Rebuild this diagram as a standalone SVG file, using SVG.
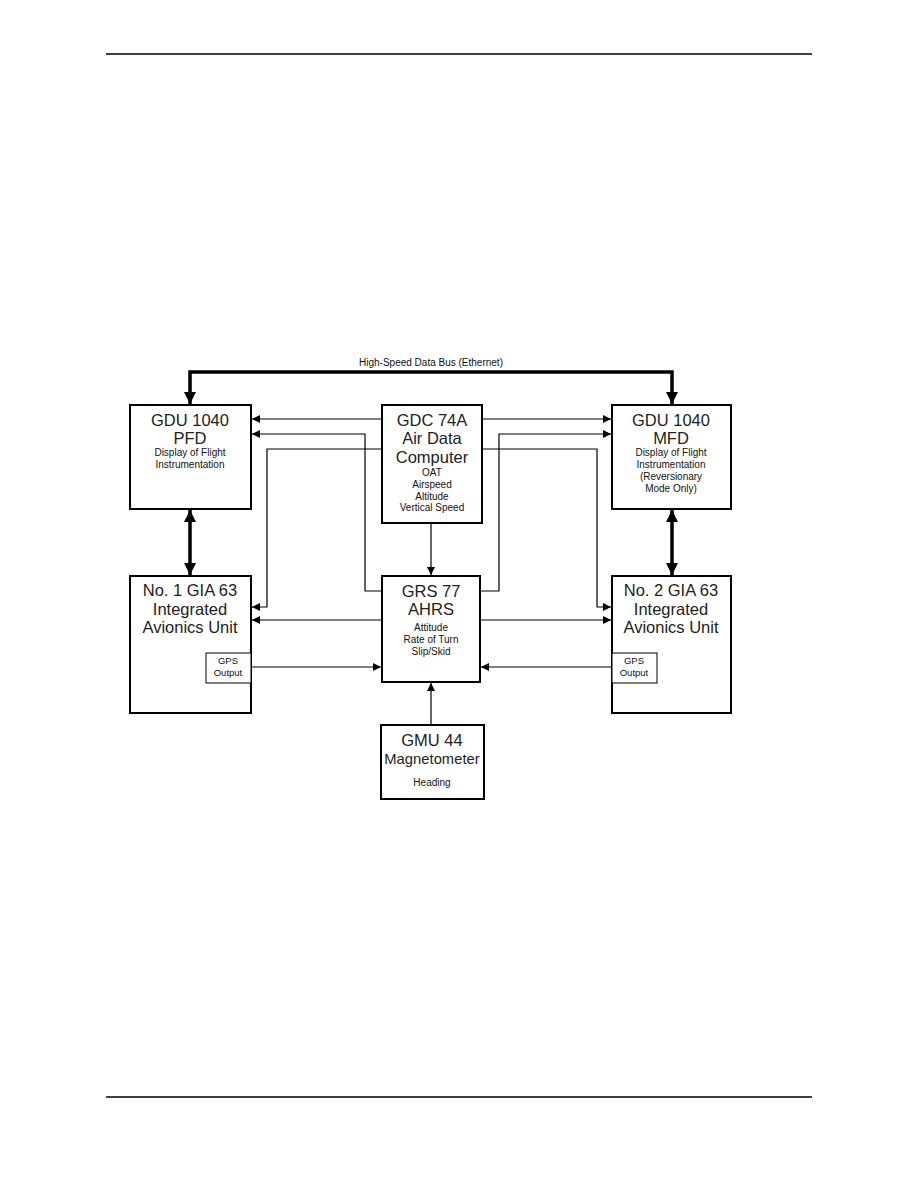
<svg xmlns="http://www.w3.org/2000/svg" width="918" height="1188" viewBox="0 0 918 1188">
<style>
.box{fill:#fff;stroke:#000;stroke-width:2}
.sbox{fill:#fff;stroke:#000;stroke-width:1}
.big{font-family:"Liberation Sans",Arial,sans-serif;font-size:16.5px;fill:#222;text-anchor:middle}
.sm{font-family:"Liberation Sans",Arial,sans-serif;font-size:10px;fill:#111;text-anchor:middle}
.xs{font-family:"Liberation Sans",Arial,sans-serif;font-size:9.5px;fill:#111;text-anchor:middle}
.thin{fill:none;stroke:#000;stroke-width:1.2}
.thick{fill:none;stroke:#000;stroke-width:3.5}
</style>
<defs>
<marker id="a" viewBox="0 0 10 10" refX="10" refY="5" markerWidth="10" markerHeight="8" markerUnits="userSpaceOnUse" orient="auto-start-reverse"><path d="M0,0 L10,5 L0,10 z" fill="#000"/></marker>
<marker id="b" viewBox="0 0 10 10" refX="10" refY="5" markerWidth="12" markerHeight="12" markerUnits="userSpaceOnUse" orient="auto-start-reverse"><path d="M0,0 L10,5 L0,10 z" fill="#000"/></marker>
</defs>
<rect width="918" height="1188" fill="#fff"/>
<line x1="106" y1="54" x2="812" y2="54" stroke="#000" stroke-width="1.5"/>
<line x1="106" y1="1097" x2="812" y2="1097" stroke="#000" stroke-width="1.5"/>

<g id="connectors">
<text x="431" y="366" class="sm">High-Speed Data Bus (Ethernet)</text>
<path class="thick" d="M190,404 V372 H672 V404" marker-start="url(#b)" marker-end="url(#b)"/>
<line class="thick" x1="190" y1="510" x2="190" y2="575" marker-start="url(#b)" marker-end="url(#b)"/>
<line class="thick" x1="672" y1="510" x2="672" y2="575" marker-start="url(#b)" marker-end="url(#b)"/>
<line class="thin" x1="382" y1="419" x2="252" y2="419" marker-end="url(#a)"/>
<path class="thin" d="M382,591 H365 V434 H252" marker-end="url(#a)"/>
<path class="thin" d="M382,449 H267 V607 H252" marker-end="url(#a)"/>
<line class="thin" x1="382" y1="620" x2="252" y2="620" marker-end="url(#a)"/>
<line class="thin" x1="251" y1="667" x2="381" y2="667" marker-end="url(#a)"/>
<line class="thin" x1="482" y1="419" x2="611" y2="419" marker-end="url(#a)"/>
<path class="thin" d="M480,591 H499 V434 H611" marker-end="url(#a)"/>
<path class="thin" d="M482,449 H597 V607 H611" marker-end="url(#a)"/>
<line class="thin" x1="480" y1="620" x2="611" y2="620" marker-end="url(#a)"/>
<line class="thin" x1="612" y1="667" x2="481" y2="667" marker-end="url(#a)"/>
<line class="thin" x1="431" y1="523" x2="431" y2="575" marker-end="url(#a)"/>
<line class="thin" x1="431" y1="725" x2="431" y2="683" marker-end="url(#a)"/>
</g>

<g id="pfd">
<rect class="box" x="130" y="405" width="121" height="104"/>
<text class="big" x="190" y="426">GDU 1040</text>
<text class="big" x="190" y="444">PFD</text>
<text class="sm" x="190" y="456">Display of Flight</text>
<text class="sm" x="190" y="468">Instrumentation</text>
</g>

<g id="gdc">
<rect class="box" x="382" y="405" width="100" height="118"/>
<text class="big" x="432" y="426">GDC 74A</text>
<text class="big" x="432" y="444">Air Data</text>
<text class="big" x="432" y="463">Computer</text>
<text class="sm" x="432" y="476">OAT</text>
<text class="sm" x="432" y="488">Airspeed</text>
<text class="sm" x="432" y="500">Altitude</text>
<text class="sm" x="432" y="511">Vertical Speed</text>
</g>

<g id="mfd">
<rect class="box" x="612" y="405" width="119" height="104"/>
<text class="big" x="671" y="426">GDU 1040</text>
<text class="big" x="671" y="444">MFD</text>
<text class="sm" x="671" y="456">Display of Flight</text>
<text class="sm" x="671" y="468">Instrumentation</text>
<text class="sm" x="671" y="480">(Reversionary</text>
<text class="sm" x="671" y="492">Mode Only)</text>
</g>

<g id="gia1">
<rect class="box" x="130" y="576" width="121" height="137"/>
<text class="big" x="190" y="596">No. 1 GIA 63</text>
<text class="big" x="190" y="615">Integrated</text>
<text class="big" x="190" y="633">Avionics Unit</text>
<rect class="sbox" x="206" y="653" width="45" height="30"/>
<text class="xs" x="228" y="664">GPS</text>
<text class="xs" x="228" y="676">Output</text>
</g>

<g id="grs">
<rect class="box" x="382" y="576" width="98" height="106"/>
<text class="big" x="431" y="597">GRS 77</text>
<text class="big" x="431" y="615">AHRS</text>
<text class="sm" x="431" y="631">Attitude</text>
<text class="sm" x="431" y="643">Rate of Turn</text>
<text class="sm" x="431" y="655">Slip/Skid</text>
</g>

<g id="gia2">
<rect class="box" x="612" y="576" width="119" height="137"/>
<text class="big" x="671" y="596">No. 2 GIA 63</text>
<text class="big" x="671" y="615">Integrated</text>
<text class="big" x="671" y="633">Avionics Unit</text>
<rect class="sbox" x="612" y="653" width="45" height="30"/>
<text class="xs" x="634" y="664">GPS</text>
<text class="xs" x="634" y="676">Output</text>
</g>

<g id="gmu">
<rect class="box" x="381" y="725" width="103" height="74"/>
<text class="big" x="432" y="746">GMU 44</text>
<text class="big" x="432" y="764" style="font-size:14.8px">Magnetometer</text>
<text class="sm" x="432" y="786">Heading</text>
</g>
</svg>
